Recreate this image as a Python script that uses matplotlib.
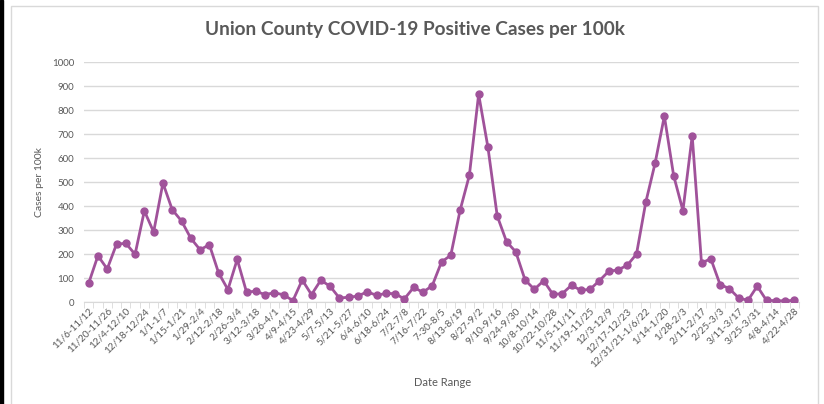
import matplotlib
matplotlib.use("Agg")
import matplotlib.pyplot as plt
from matplotlib.patches import Rectangle

plt.rcParams['font.family'] = ['Lato', 'DejaVu Sans']

weeks = [
    "11/6-11/12", "11/13-11/19", "11/20-11/26", "11/27-12/3", "12/4-12/10", "12/11-12/17",
    "12/18-12/24", "12/25-12/31", "1/1-1/7", "1/8-1/14", "1/15-1/21", "1/22-1/28",
    "1/29-2/4", "2/5-2/11", "2/12-2/18", "2/19-2/25", "2/26-3/4", "3/5-3/11",
    "3/12-3/18", "3/19-3/25", "3/26-4/1", "4/2-4/8", "4/9-4/15", "4/16-4/22",
    "4/23-4/29", "4/30-5/6", "5/7-5/13", "5/14-5/20", "5/21-5/27", "5/28-6/3",
    "6/4-6/10", "6/11-6/17", "6/18-6/24", "6/25-7/1", "7/2-7/8", "7/9-7/15",
    "7/16-7/22", "7/23-7/29", "7-30-8/5", "8/6-8/12", "8/13-8/19", "8/20-8/26",
    "8/27-9/2", "9/3-9/9", "9/10-9/16", "9/17-9/23", "9/24-9/30", "10/1-10/7",
    "10/8-10/14", "10/15-10/21", "10/22-10/28", "10/29-11/4", "11/5-11/11", "11/12-11/18",
    "11/19-11/25", "11/26-12/2", "12/3-12/9", "12/10-12/16", "12/17-12/23", "12/24-12/30",
    "12/31/21-1/6/22", "1/7-1/13", "1/14-1/20", "1/21-1/27", "1/28-2/3", "2/4-2/10",
    "2/11-2/17", "2/18-2/24", "2/25-3/3", "3/4-3/10", "3/11-3/17", "3/18-3/24",
    "3/25-3/31", "4/1-4/7", "4/8-4/14", "4/15-4/21", "4/22-4/28",
]

cases = [
    79, 194, 139, 242, 246, 200, 381, 293, 497, 386,
    339, 267, 219, 240, 122, 53, 179, 43, 46, 32,
    40, 31, 7, 93, 32, 92, 67, 18, 21, 26,
    44, 29, 37, 36, 14, 62, 42, 69, 168, 196,
    383, 529, 867, 646, 360, 253, 210, 93, 54, 90,
    33, 36, 71, 50, 54, 90, 129, 135, 154, 201,
    417, 579, 776, 528, 382, 694, 163, 182, 74, 57,
    18, 8, 67, 8, 7, 6, 8,
]

y_ticks = [0, 100, 200, 300, 400, 500, 600, 700, 800, 900, 1000]

W, H = 824, 404
fig = plt.figure(figsize=(W / 100, H / 100), dpi=100)
fig.patch.set_facecolor('white')

# outer frame and left dark strip
fig.add_artist(Rectangle((0, 0), 3 / W, 1, transform=fig.transFigure, color='black', zorder=0))
fig.add_artist(Rectangle((11 / W, -0.01), (818 - 11) / W, (404 - 6) / H + 0.01,
                         transform=fig.transFigure, fill=False, edgecolor='#d9d9d9', lw=1.0))

left, right, top, bottom = 84, 799, 62.3, 302.3
ax = fig.add_axes([left / W, 1 - bottom / H, (right - left) / W, (bottom - top) / H])

x = list(range(len(weeks)))
ax.plot(x, cases, color='#A0529A', lw=2.0, marker='o', markersize=5, zorder=3)

ax.set_xlim(-0.5, len(weeks) - 0.5)
ax.set_ylim(0, 1000)
ax.set_yticks(y_ticks)
ax.set_yticklabels([str(v) for v in y_ticks], fontsize=7, color='#595959')
ax.grid(axis='y', color='#d9d9d9', lw=1)
ax.set_axisbelow(True)

ax.set_xticks(x[::2])
ax.set_xticklabels(weeks[::2], rotation=45, ha='right', rotation_mode='anchor',
                   fontsize=7.2, color='#595959')
ax.set_xticks([i - 0.5 for i in range(len(weeks) + 1)], minor=True)
ax.tick_params(axis='x', which='major', length=0, pad=3)
ax.tick_params(axis='x', which='minor', length=4, color='#d9d9d9')
ax.tick_params(axis='y', length=0, pad=7)

for s in ['top', 'right', 'left']:
    ax.spines[s].set_visible(False)
ax.spines['bottom'].set_color('#d9d9d9')

fig.text(40 / W, 1 - 182 / H, 'Cases per 100k', rotation=90, ha='center', va='center',
         fontsize=7.5, color='#595959')
fig.text(443 / W, 1 - 383 / H, 'Date Range', ha='center', va='center', fontsize=8, color='#595959')
fig.text(415 / W, 1 - 30 / H, 'Union County COVID-19 Positive Cases per 100k',
         ha='center', va='center', fontsize=13.7, fontweight='bold', color='#595959')

fig.savefig('out.png', dpi=100)
